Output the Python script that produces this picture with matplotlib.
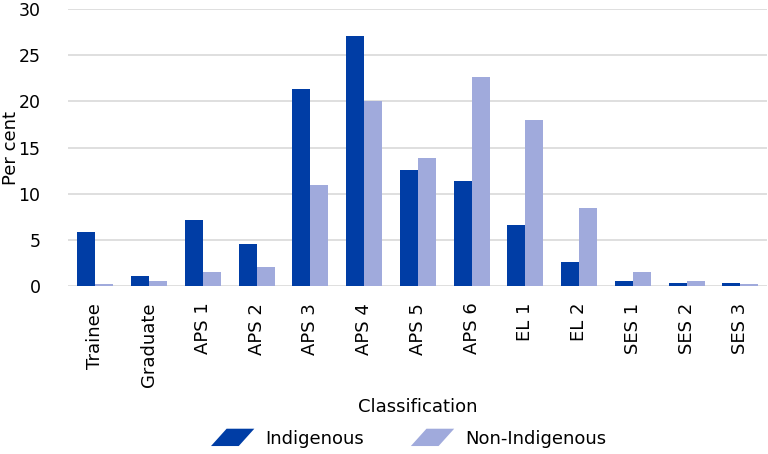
import matplotlib
matplotlib.use("Agg")
import matplotlib.pyplot as plt
import matplotlib.patches as mpatches
from matplotlib.legend_handler import HandlerPatch
import numpy as np

categories = ["Trainee", "Graduate", "APS 1", "APS 2", "APS 3", "APS 4", "APS 5",
              "APS 6", "EL 1", "EL 2", "SES 1", "SES 2", "SES 3"]
indigenous = [5.8, 1.05, 7.1, 4.6, 21.3, 27.1, 12.6, 11.4, 6.6, 2.6, 0.55, 0.3, 0.3]
non_indigenous = [0.25, 0.55, 1.55, 2.05, 10.9, 20.0, 13.9, 22.6, 18.0, 8.4, 1.5, 0.55, 0.25]

dark = "#003DA5"
light = "#A0AADC"

plt.rcParams["font.family"] = ["DejaVu Sans"]

fig = plt.figure(figsize=(7.68, 4.54), dpi=100)
ax = fig.add_axes([0.089, 0.37, 0.91, 0.61])

x = np.arange(len(categories))
w = 0.335
ax.bar(x - w / 2, indigenous, w, color=dark, label="Indigenous", zorder=3)
ax.bar(x + w / 2, non_indigenous, w, color=light, label="Non-Indigenous", zorder=3)

ax.set_xlim(-0.5, len(categories) - 0.5)
ax.set_ylim(0, 30)
ax.set_yticks(range(0, 31, 5))
ax.set_xticks(x)
ax.set_xticklabels(categories, rotation=90, fontsize=13)
ax.tick_params(axis="y", labelsize=12.5, length=0, pad=20)
ax.tick_params(axis="x", length=0, pad=12)
ax.grid(axis="y", color="#d9d9d9", linewidth=1.2, zorder=0)
for s in ax.spines.values():
    s.set_visible(False)
ax.set_ylabel("Per cent", fontsize=13)
ax.yaxis.set_label_coords(-0.069, 0.5)
ax.set_xlabel("Classification", fontsize=13, labelpad=8)


class Parallelogram(HandlerPatch):
    def create_artists(self, legend, orig_handle, xdescent, ydescent, width, height, fontsize, trans):
        sk = height * 0.9
        pts = [(-xdescent + sk, -ydescent + height), (-xdescent + width, -ydescent + height),
               (-xdescent + width - sk, -ydescent), (-xdescent, -ydescent)]
        p = mpatches.Polygon(pts, closed=True, facecolor=orig_handle.get_facecolor(), edgecolor="none")
        p.set_transform(trans)
        return [p]


handles = [mpatches.Patch(color=dark, label="Indigenous"),
           mpatches.Patch(color=light, label="Non-Indigenous")]
fig.legend(handles=handles, loc="center", bbox_to_anchor=(0.532, 0.035), ncol=2, frameon=False,
           fontsize=13, handler_map={mpatches.Patch: Parallelogram()},
           handlelength=2.4, handleheight=1.1, columnspacing=2.6, handletextpad=0.6)

fig.savefig("out.png", dpi=100)
